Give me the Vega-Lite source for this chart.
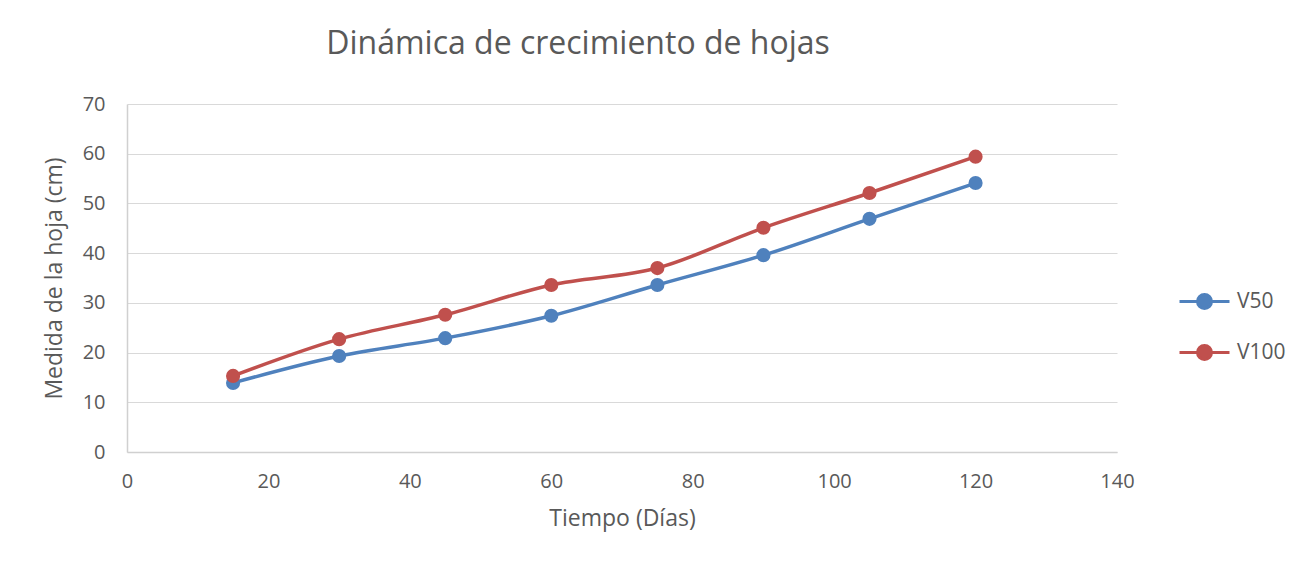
{
  "$schema": "https://vega.github.io/schema/vega-lite/v6.json",
  "autosize": "none",
  "width": 990,
  "height": 348,
  "padding": {"left": 127, "top": 104, "right": 193, "bottom": 116},
  "background": "white",
  "title": {
    "text": "Dinámica de crecimiento de hojas",
    "font": "Open Sans",
    "fontSize": 32,
    "fontWeight": "normal",
    "color": "#595959",
    "anchor": "middle",
    "dx": -44,
    "offset": 33
  },
  "data": {
    "values": [
      {"dias": 15, "medida": 13.9, "serie": "V50"},
      {"dias": 30, "medida": 19.3, "serie": "V50"},
      {"dias": 45, "medida": 22.9, "serie": "V50"},
      {"dias": 60, "medida": 27.4, "serie": "V50"},
      {"dias": 75, "medida": 33.6, "serie": "V50"},
      {"dias": 90, "medida": 39.6, "serie": "V50"},
      {"dias": 105, "medida": 46.9, "serie": "V50"},
      {"dias": 120, "medida": 54.1, "serie": "V50"},
      {"dias": 15, "medida": 15.3, "serie": "V100"},
      {"dias": 30, "medida": 22.7, "serie": "V100"},
      {"dias": 45, "medida": 27.6, "serie": "V100"},
      {"dias": 60, "medida": 33.6, "serie": "V100"},
      {"dias": 75, "medida": 37.0, "serie": "V100"},
      {"dias": 90, "medida": 45.1, "serie": "V100"},
      {"dias": 105, "medida": 52.1, "serie": "V100"},
      {"dias": 120, "medida": 59.4, "serie": "V100"}
    ]
  },
  "encoding": {
    "x": {
      "field": "dias",
      "type": "quantitative",
      "scale": {"domain": [0, 140], "nice": false},
      "axis": {
        "title": "Tiempo (Días)",
        "values": [0, 20, 40, 60, 80, 100, 120, 140],
        "grid": false,
        "ticks": false,
        "labelFlush": false,
        "labelPadding": 19,
        "titlePadding": 16
      }
    },
    "y": {
      "field": "medida",
      "type": "quantitative",
      "scale": {"domain": [0, 70], "nice": false},
      "axis": {
        "title": "Medida de la hoja (cm)",
        "values": [0, 10, 20, 30, 40, 50, 60, 70],
        "grid": true,
        "ticks": false,
        "labelFlush": false,
        "labelPadding": 22,
        "titlePadding": 16
      }
    },
    "color": {
      "field": "serie",
      "type": "nominal",
      "sort": ["V50", "V100"],
      "scale": {"domain": ["V50", "V100"], "range": ["#4F81BD", "#C0504D"]},
      "legend": {
        "title": null,
        "orient": "none",
        "legendX": 1066,
        "legendY": 186,
        "padding": 0,
        "symbolType": "M-2.5,0L2.5,0M-0.7,0A0.7,0.7,0,1,1,0.7,0A0.7,0.7,0,1,1,-0.7,0Z",
        "symbolSize": 400,
        "symbolStrokeWidth": 3,
        "labelOffset": 21,
        "rowPadding": 24,
        "labelFont": "Open Sans",
        "labelFontSize": 21,
        "labelColor": "#595959",
        "encode": {
          "symbols": {
            "update": {
              "fill": {"scale": "color", "field": "value"},
              "stroke": {"scale": "color", "field": "value"},
              "fillOpacity": {"value": 1},
              "opacity": {"value": 1}
            }
          }
        }
      }
    }
  },
  "layer": [
    {
      "mark": {"type": "line", "interpolate": "monotone", "strokeWidth": 3.5}
    },
    {
      "mark": {"type": "point", "filled": true, "size": 200, "opacity": 1}
    }
  ],
  "config": {
    "view": {"stroke": null},
    "axis": {
      "domainColor": "#d0d0d0",
      "domainWidth": 1.5,
      "gridColor": "#d9d9d9",
      "gridWidth": 1,
      "labelFont": "Open Sans",
      "labelFontSize": 20,
      "labelColor": "#595959",
      "titleFont": "Open Sans",
      "titleFontSize": 23,
      "titleFontWeight": "normal",
      "titleColor": "#595959"
    }
  }
}
